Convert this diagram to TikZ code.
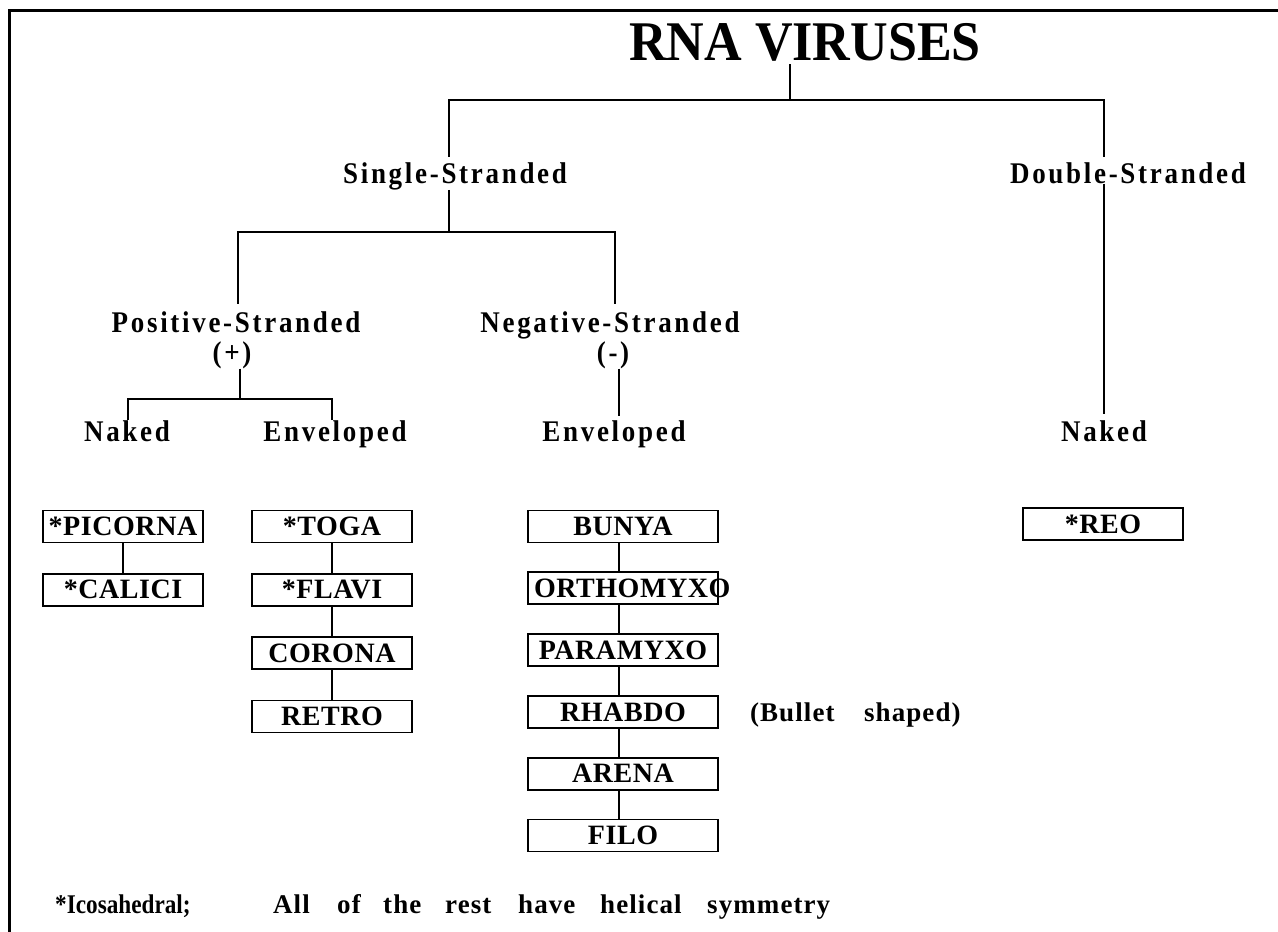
\documentclass[tikz,border=0pt]{standalone}
\usepackage{fontspec}
\setmainfont{Liberation Serif}
\newfontfamily\titlefont[FakeStretch=0.93]{Liberation Serif}
\newfontfamily\lblfont[FakeStretch=0.9, LetterSpace=9]{Liberation Serif}
\newfontfamily\boxfont[LetterSpace=2]{Liberation Serif}
\newfontfamily\notefont[LetterSpace=4]{Liberation Serif}
\newfontfamily\notefontA[FakeStretch=0.86]{Liberation Serif}
\usetikzlibrary{calc, positioning}

\begin{document}
\begin{tikzpicture}[
    x=1pt, y=-1pt,
    node distance=28pt,
    lbl/.style={inner sep=0pt, anchor=base,
                font=\lblfont\bfseries\fontsize{30}{32}\selectfont},
    vbox/.style={draw, line width=1.8pt, inner sep=0pt, minimum width=160pt,
                 minimum height=32pt,
                 font=\boxfont\bfseries\fontsize{28}{30}\selectfont},
    notetxt/.style={inner sep=0pt, anchor=base west,
                    font=\notefont\bfseries\fontsize{27}{30}\selectfont},
    tree/.style={line width=2.5pt},
    link/.style={line width=1.4pt}
  ]
  \useasboundingbox (0,0) rectangle (1278,932);
  % frame
  \draw[line width=3.5pt] (8,10.5) -- (1278,10.5);
  \draw[line width=3pt] (9.5,9) -- (9.5,932);

  \node[inner sep=0pt, anchor=base,
        font=\titlefont\bfseries\fontsize{56}{60}\selectfont] (rna) at (805,60) {RNA VIRUSES};

  % levels
  \node[lbl] (single)  at (455,183)  {Single-Stranded};
  \node[lbl] (double)  at (1128,183) {Double-Stranded};
  \node[lbl] (pos)     at (236,332)  {Positive-Stranded};
  \node[lbl] (plus)    at (232,362)  {(+)};
  \node[lbl] (neg)     at (610,332)  {Negative-Stranded};
  \node[lbl] (minus)   at (613,362)  {(-)};
  \node[lbl] (naked)   at (127,441)  {Naked};
  \node[lbl] (envpos)  at (335,441)  {Enveloped};
  \node[lbl] (envneg)  at (614,441)  {Enveloped};
  \node[lbl] (nakedds) at (1104,441) {Naked};

  % junctions
  \coordinate (top) at (790,100);
  \coordinate (t1)  at (449,100);
  \coordinate (t2)  at (1104,100);
  \coordinate (ssj) at (449,232);
  \coordinate (s1)  at (238,232);
  \coordinate (s2)  at (615,232);
  \coordinate (posj) at (240,399);
  \coordinate (p1)  at (128,399);
  \coordinate (p2)  at (332,399);
  \coordinate (negx) at (619,0);

  \draw[tree] ([yshift=-3pt]rna.south -| top) -- (top);
  \draw[tree] ([yshift=5pt]single.north -| t1) -- (t1) -- (t2)
              -- ([yshift=5pt]double.north -| t2);
  \draw[tree] (single.south -| ssj) -- (ssj);
  \draw[tree] ([yshift=7pt]pos.north -| s1) -- (s1) -- (s2)
              -- ([yshift=7pt]neg.north -| s2);
  \draw[tree] (plus.south -| posj) -- (posj);
  \draw[tree] (naked.north -| p1) -- (p1) -- (p2) -- (envpos.north -| p2);
  \draw[tree] (minus.south -| negx) -- ([yshift=4pt]envneg.north -| negx);
  \draw[tree] (double.south -| t2) -- ([yshift=6pt]nakedds.north -| t2);

  % families
  \node[vbox] (picorna) at (123,526.5) {*PICORNA};
  \node[vbox, below=29.5pt of picorna] (calici) {*CALICI};

  \node[vbox] (toga) at (332,526.5) {*TOGA};
  \node[vbox, below=29.5pt of toga]   (flavi)  {*FLAVI};
  \node[vbox, below=29.5pt of flavi]  (corona) {CORONA};
  \node[vbox, below=29.5pt of corona] (retro)  {RETRO};

  \node[vbox, minimum width=190pt] (bunya) at (623,526.5) {BUNYA};
  \node[vbox, minimum width=190pt, below=of bunya]     (orthomyxo)
    {\makebox[190pt][l]{\hspace{6pt}ORTHOMYXO}};
  \node[vbox, minimum width=190pt, below=of orthomyxo] (paramyxo)  {PARAMYXO};
  \node[vbox, minimum width=190pt, below=of paramyxo]  (rhabdo)    {RHABDO};
  \node[vbox, minimum width=190pt, below=of rhabdo]    (arena)     {ARENA};
  \node[vbox, minimum width=190pt, below=of arena]     (filo)      {FILO};

  \node[vbox] (reo) at (1103,524) {*REO};

  \draw[link] (picorna) -- (calici);
  \foreach \a/\b in {toga/flavi, flavi/corona, corona/retro}
    \draw[link] (\a) -- (\b);
  \foreach \a/\b in {bunya/orthomyxo, orthomyxo/paramyxo, paramyxo/rhabdo,
                     rhabdo/arena, arena/filo}
    \draw[link] (\a.south -| negx) -- (\b.north -| negx);

  \node[notetxt] (bullet) at ($(rhabdo.east)+(31,10)$)
    {\makebox[114pt][l]{(Bullet}shaped)};

  \node[notetxt] (note) at (55,913)
    {\makebox[218pt][l]{\notefontA *Icosahedral;}\makebox[64pt][l]{All}%
     \makebox[46pt][l]{of}\makebox[62pt][l]{the}\makebox[73pt][l]{rest}%
     \makebox[82pt][l]{have}\makebox[107pt][l]{helical}symmetry};
\end{tikzpicture}
\end{document}
